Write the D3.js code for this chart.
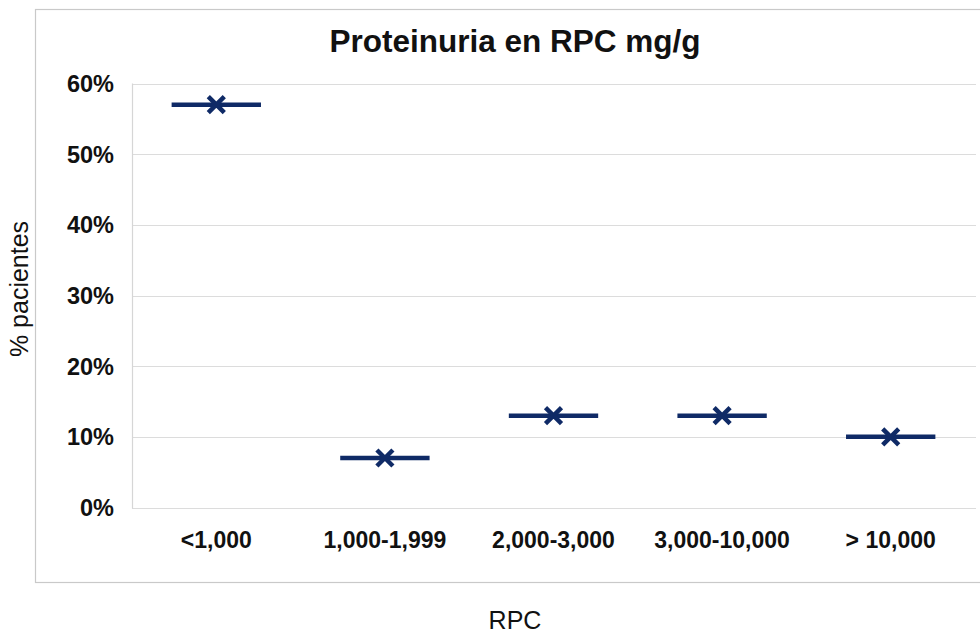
<!DOCTYPE html>
<html>
<head>
<meta charset="utf-8">
<script src="https://cdn.jsdelivr.net/npm/d3@7"></script>
<style>
html,body{margin:0;padding:0;background:#fff;}
svg{display:block;font-family:"Liberation Sans",Arial,sans-serif;}
</style>
</head>
<body>
<svg id="chart" width="980" height="633"></svg>
<script>
const title = "Proteinuria en RPC mg/g";
const categories = ["<1,000", "1,000-1,999", "2,000-3,000", "3,000-10,000", "> 10,000"];
const values = [57, 7, 13, 13, 10];
const yTicks = [0, 10, 20, 30, 40, 50, 60];
const xTitle = "RPC";
const yTitle = "% pacientes";

const svg = d3.select("#chart");
const navy = "#0f2a66";

// outer chart border
svg.append("rect")
  .attr("x", 35.5).attr("y", 9.5)
  .attr("width", 960).attr("height", 573)
  .attr("fill", "none").attr("stroke", "#c9c9c9").attr("stroke-width", 1.2);

const plot = {left: 132, right: 975, top: 83.5, bottom: 507.5};

const x = d3.scaleBand().domain(categories).range([plot.left, plot.right]).padding(0);
const y = d3.scaleLinear().domain([0, 60]).range([plot.bottom, plot.top]);

// gridlines
svg.append("g").selectAll("line").data(yTicks).join("line")
  .attr("x1", plot.left).attr("x2", plot.right + 1)
  .attr("y1", d => Math.round(y(d)) + 0.5).attr("y2", d => Math.round(y(d)) + 0.5)
  .attr("stroke", "#dcdcdc").attr("stroke-width", 1.2);

// left plot line
svg.append("line")
  .attr("x1", plot.left + 0.5).attr("x2", plot.left + 0.5)
  .attr("y1", plot.top).attr("y2", plot.bottom + 1)
  .attr("stroke", "#d6d6d6").attr("stroke-width", 1.2);

// y tick labels
svg.append("g").selectAll("text").data(yTicks).join("text")
  .attr("x", 114).attr("y", d => y(d))
  .attr("dy", "0.36em")
  .attr("text-anchor", "end")
  .attr("font-size", 23.5).attr("font-weight", "bold").attr("fill", "#111")
  .text(d => d + "%");

// x tick labels
svg.append("g").selectAll("text").data(categories).join("text")
  .attr("x", d => x(d) + x.bandwidth() / 2).attr("y", 548)
  .attr("text-anchor", "middle")
  .attr("font-size", 23).attr("font-weight", "bold").attr("fill", "#111")
  .text(d => d);

// marks: horizontal dash + X marker
const marks = svg.append("g").selectAll("g").data(categories).join("g")
  .attr("transform", (d, i) => `translate(${x(d) + x.bandwidth() / 2},${y(values[i])})`);

marks.append("line")
  .attr("x1", -x.bandwidth() * 0.265).attr("x2", x.bandwidth() * 0.265)
  .attr("y1", 0).attr("y2", 0)
  .attr("stroke", navy).attr("stroke-width", 4.5);

const s = 8;
marks.append("path")
  .attr("d", `M${-s},${-s}L${s},${s}M${-s},${s}L${s},${-s}`)
  .attr("stroke", navy).attr("stroke-width", 4.5).attr("fill", "none");

// title
svg.append("text")
  .attr("x", 515).attr("y", 52)
  .attr("text-anchor", "middle")
  .attr("font-size", 31.5).attr("font-weight", "bold").attr("fill", "#111")
  .text(title);

// axis titles
svg.append("text")
  .attr("x", 515).attr("y", 629)
  .attr("text-anchor", "middle")
  .attr("font-size", 25).attr("fill", "#111")
  .text(xTitle);

svg.append("text")
  .attr("transform", "translate(28,289) rotate(-90)")
  .attr("text-anchor", "middle")
  .attr("font-size", 25).attr("fill", "#111")
  .text(yTitle);
</script>
</body>
</html>
